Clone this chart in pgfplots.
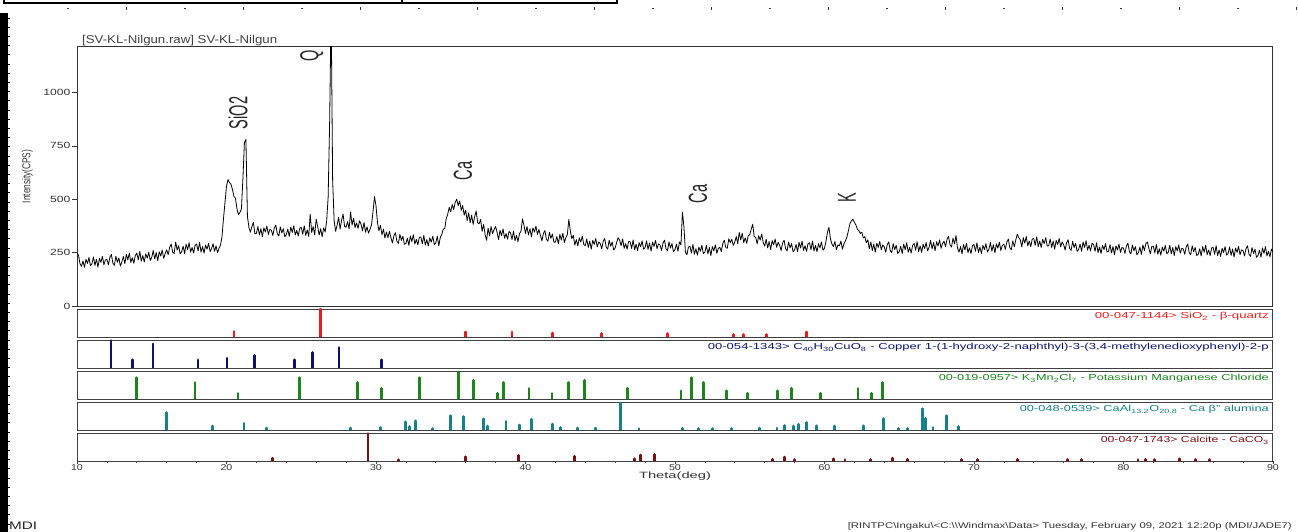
\documentclass[border=0pt]{standalone}
\usepackage{fontspec}
\setmainfont{Liberation Sans}
\usepackage{graphicx}
\usepackage{pgfplots}
\pgfplotsset{compat=1.18}
\definecolor{cRed}{RGB}{232,28,28}
\definecolor{cNavy}{RGB}{12,18,110}
\definecolor{cGreen}{RGB}{28,134,28}
\definecolor{cTeal}{RGB}{22,130,136}
\definecolor{cBrown}{RGB}{124,14,14}
\newcommand{\yl}[1]{\scalebox{1.35}[1]{#1}}
\newcommand{\tl}[1]{\scalebox{1.25}[1]{#1}}
\newcommand{\plab}[2]{\resizebox{#1}{6.3pt}{#2}}
\newcommand{\ann}[1]{\scalebox{0.56}[1]{\fontsize{26}{26}\selectfont #1}}
\pgfplotsset{
 panel/.style={at={(77pt,#1)}, anchor=south west, scale only axis, width=1196pt, height=28pt,
  xmin=10, xmax=90, ymin=0, ymax=100, xtick=\empty, ytick=\empty,
  x axis line style={gray!55, line width=1.3pt}, y axis line style={black!75, line width=0.9pt},
  clip mode=individual},
 stick/.style={ycomb, draw=#1, line width=2.8pt, line cap=round}
}
\begin{document}
\begin{tikzpicture}[x=1pt,y=1pt]
\useasboundingbox (0,0) rectangle (1298,532);
% screen decorations
\fill[black] (0,0) rectangle (7.5,519);
\foreach \i in {0,...,55} {\draw[black, line width=0.6pt] (7.5,{514-9.2*\i}) -- (10,{514-9.2*\i});}
\draw[black, line width=1.5pt] (4,532) -- (4,529) -- (617,529) -- (617,532);
\draw[black, line width=1.5pt] (402,529) -- (402,532);
\foreach \k in {0,...,21} {
  \pgfmathsetmacro{\xx}{68+58.5*\k}
  \ifodd\k \fill[gray!40!black] (\xx-0.5,522) rectangle (\xx+0.5,525);
  \else \fill[gray!40!black] (\xx-0.6,523) rectangle (\xx+0.6,524.2); \fi
}
% main pattern
\begin{axis}[
 at={(77pt,226pt)}, anchor=south west, scale only axis, width=1196pt, height=259.5pt,
 xmin=10, xmax=90, ymin=0, ymax=1215,
 xtick=\empty, ytick={0,250,500,750,1000},
 yticklabels={\yl{0},\yl{250},\yl{500},\yl{750},\yl{1000}},
 ytick pos=left, tick align=outside, major tick length=5pt,
 tick style={black!80, line width=0.6pt},
 yticklabel style={font=\fontsize{9}{9}\selectfont, text=black!80, inner sep=1.5pt},
 x axis line style={gray!55, line width=1.3pt}, y axis line style={black!80, line width=0.9pt},
 clip mode=individual]
\addplot[black, line width=0.8pt, line join=round] coordinates {
(10.0,252)(10.1,238)(10.2,198)(10.3,185)(10.4,211)(10.5,181)(10.6,219)(10.7,199)(10.8,227)(10.9,188)
(11.0,198)(11.1,230)(11.2,190)(11.3,220)(11.4,182)(11.5,224)(11.6,204)(11.7,232)(11.8,193)(11.9,216)
(12.0,218)(12.1,193)(12.2,228)(12.3,241)(12.4,201)(12.5,191)(12.6,233)(12.7,205)(12.8,225)(12.9,187)
(13.0,206)(13.1,232)(13.2,198)(13.3,242)(13.4,216)(13.5,248)(13.6,204)(13.7,226)(13.8,200)(13.9,236)
(14.0,248)(14.1,216)(14.2,256)(14.3,210)(14.4,236)(14.5,206)(14.6,244)(14.7,224)(14.8,252)(14.9,213)
(15.0,228)(15.1,260)(15.2,220)(15.3,250)(15.4,212)(15.5,254)(15.6,234)(15.7,262)(15.8,223)(15.9,246)
(16.0,263)(16.1,240)(16.2,275)(16.3,290)(16.4,252)(16.5,246)(16.6,300)(16.7,262)(16.8,282)(16.9,244)
(17.0,254)(17.1,280)(17.2,246)(17.3,290)(17.4,264)(17.5,296)(17.6,252)(17.7,274)(17.8,248)(17.9,284)
(18.0,290)(18.1,258)(18.2,298)(18.3,252)(18.4,278)(18.5,248)(18.6,286)(18.7,266)(18.8,294)(18.9,255)
(19.0,268)(19.1,292)(19.2,256)(19.3,282)(19.4,250)(19.5,270)(19.6,285)(19.7,325)(19.8,410)(19.9,485)
(20.0,560)(20.1,592)(20.2,578)(20.3,570)(20.4,545)(20.5,512)(20.6,505)(20.7,455)(20.8,428)(20.9,438)
(21.0,455)(21.1,600)(21.2,765)(21.3,780)(21.4,420)(21.5,368)(21.6,345)(21.7,372)(21.8,392)(21.9,338)
(22.0,340)(22.1,372)(22.2,332)(22.3,362)(22.4,324)(22.5,366)(22.6,346)(22.7,374)(22.8,335)(22.9,358)
(23.0,355)(23.1,330)(23.2,365)(23.3,378)(23.4,338)(23.5,328)(23.6,370)(23.7,342)(23.8,362)(23.9,324)
(24.0,334)(24.1,360)(24.2,326)(24.3,370)(24.4,344)(24.5,376)(24.6,332)(24.7,354)(24.8,328)(24.9,364)
(25.0,368)(25.1,336)(25.2,376)(25.3,330)(25.4,356)(25.5,326)(25.6,430)(25.7,344)(25.8,372)(25.9,333)
(26.0,407)(26.1,372)(26.2,332)(26.3,362)(26.4,324)(26.5,366)(26.6,346)(26.7,397)(26.8,510)(26.9,860)
(27.0,1400)(27.1,590)(27.2,400)(27.3,350)(27.4,378)(27.5,416)(27.6,360)(27.7,402)(27.8,430)(27.9,372)
(28.0,369)(28.1,395)(28.2,361)(28.3,440)(28.4,379)(28.5,411)(28.6,367)(28.7,389)(28.8,363)(28.9,399)
(29.0,383)(29.1,351)(29.2,391)(29.3,345)(29.4,371)(29.5,341)(29.6,359)(29.7,380)(29.8,440)(29.9,512)
(30.0,470)(30.1,390)(30.2,352)(30.3,378)(30.4,334)(30.5,360)(30.6,318)(30.7,346)(30.8,320)(30.9,350)
(31.0,320)(31.1,295)(31.2,330)(31.3,343)(31.4,303)(31.5,293)(31.6,335)(31.7,307)(31.8,327)(31.9,289)
(32.0,292)(32.1,318)(32.2,284)(32.3,328)(32.4,302)(32.5,334)(32.6,290)(32.7,312)(32.8,286)(32.9,322)
(33.0,323)(33.1,291)(33.2,331)(33.3,285)(33.4,311)(33.5,281)(33.6,319)(33.7,299)(33.8,327)(33.9,288)
(34.0,295)(34.1,327)(34.2,282)(34.3,320)(34.4,335)(34.5,360)(34.6,362)(34.7,410)(34.8,430)(34.9,462)
(35.0,440)(35.1,475)(35.2,452)(35.3,485)(35.4,500)(35.5,470)(35.6,492)(35.7,448)(35.8,470)(35.9,425)
(36.0,448)(36.1,400)(36.2,436)(36.3,390)(36.4,425)(36.5,382)(36.6,418)(36.7,445)(36.8,390)(36.9,385)
(37.0,405)(37.1,350)(37.2,382)(37.3,334)(37.4,308)(37.5,365)(37.6,328)(37.7,372)(37.8,338)(37.9,358)
(38.0,372)(38.1,345)(38.2,311)(38.3,355)(38.4,329)(38.5,361)(38.6,317)(38.7,339)(38.8,313)(38.9,349)
(39.0,343)(39.1,311)(39.2,351)(39.3,305)(39.4,331)(39.5,301)(39.6,339)(39.7,350)(39.8,408)(39.9,378)
(40.0,340)(40.1,372)(40.2,332)(40.3,362)(40.4,324)(40.5,366)(40.6,346)(40.7,374)(40.8,335)(40.9,358)
(41.0,330)(41.1,305)(41.2,340)(41.3,353)(41.4,313)(41.5,303)(41.6,345)(41.7,317)(41.8,337)(41.9,299)
(42.0,299)(42.1,325)(42.2,291)(42.3,335)(42.4,309)(42.5,341)(42.6,297)(42.7,319)(42.8,335)(42.9,405)
(43.0,352)(43.1,315)(43.2,331)(43.3,285)(43.4,311)(43.5,281)(43.6,319)(43.7,299)(43.8,327)(43.9,288)
(44.0,282)(44.1,314)(44.2,274)(44.3,304)(44.4,266)(44.5,308)(44.6,288)(44.7,316)(44.8,277)(44.9,300)
(45.0,293)(45.1,268)(45.2,303)(45.3,316)(45.4,276)(45.5,266)(45.6,308)(45.7,280)(45.8,300)(45.9,262)
(46.0,272)(46.1,298)(46.2,320)(46.3,308)(46.4,282)(46.5,314)(46.6,270)(46.7,292)(46.8,266)(46.9,302)
(47.0,301)(47.1,269)(47.2,309)(47.3,263)(47.4,289)(47.5,259)(47.6,297)(47.7,277)(47.8,305)(47.9,266)
(48.0,273)(48.1,305)(48.2,265)(48.3,295)(48.4,257)(48.5,299)(48.6,279)(48.7,307)(48.8,268)(48.9,291)
(49.0,285)(49.1,260)(49.2,295)(49.3,308)(49.4,268)(49.5,258)(49.6,300)(49.7,272)(49.8,292)(49.9,254)
(50.0,264)(50.1,290)(50.2,256)(50.3,300)(50.4,286)(50.5,440)(50.6,370)(50.7,252)(50.8,240)(50.9,276)
(51.0,280)(51.1,248)(51.2,288)(51.3,242)(51.4,268)(51.5,238)(51.6,276)(51.7,256)(51.8,284)(51.9,245)
(52.0,252)(52.1,284)(52.2,244)(52.3,274)(52.4,236)(52.5,278)(52.6,258)(52.7,286)(52.8,247)(52.9,270)
(53.0,275)(53.1,255)(53.2,292)(53.3,308)(53.4,274)(53.5,270)(53.6,315)(53.7,297)(53.8,312)(53.9,284)
(54.0,299)(54.1,325)(54.2,291)(54.3,345)(54.4,309)(54.5,341)(54.6,297)(54.7,319)(54.8,293)(54.9,329)
(55.0,333)(55.1,360)(55.2,383)(55.3,325)(55.4,321)(55.5,291)(55.6,329)(55.7,309)(55.8,337)(55.9,298)
(56.0,280)(56.1,312)(56.2,272)(56.3,302)(56.4,264)(56.5,306)(56.6,286)(56.7,314)(56.8,275)(56.9,298)
(57.0,285)(57.1,260)(57.2,295)(57.3,308)(57.4,268)(57.5,258)(57.6,300)(57.7,272)(57.8,292)(57.9,254)
(58.0,262)(58.1,288)(58.2,254)(58.3,298)(58.4,272)(58.5,304)(58.6,260)(58.7,282)(58.8,256)(58.9,292)
(59.0,296)(59.1,264)(59.2,304)(59.3,258)(59.4,284)(59.5,254)(59.6,292)(59.7,272)(59.8,300)(59.9,261)
(60.0,270)(60.1,302)(60.2,345)(60.3,368)(60.4,315)(60.5,290)(60.6,278)(60.7,302)(60.8,263)(60.9,286)
(61.0,282)(61.1,304)(61.2,266)(61.3,290)(61.4,305)(61.5,322)(61.6,352)(61.7,385)(61.8,398)(61.9,407)
(62.0,392)(62.1,380)(62.2,360)(62.3,352)(62.4,340)(62.5,346)(62.6,318)(62.7,325)(62.8,296)(62.9,310)
(63.0,268)(63.1,300)(63.2,260)(63.3,290)(63.4,252)(63.5,294)(63.6,274)(63.7,302)(63.8,263)(63.9,286)
(64.0,277)(64.1,252)(64.2,287)(64.3,300)(64.4,260)(64.5,250)(64.6,292)(64.7,264)(64.8,284)(64.9,246)
(65.0,254)(65.1,280)(65.2,246)(65.3,290)(65.4,264)(65.5,296)(65.6,252)(65.7,274)(65.8,248)(65.9,284)
(66.0,293)(66.1,261)(66.2,301)(66.3,255)(66.4,281)(66.5,251)(66.6,289)(66.7,269)(66.8,297)(66.9,258)
(67.0,275)(67.1,307)(67.2,267)(67.3,297)(67.4,259)(67.5,301)(67.6,281)(67.7,309)(67.8,270)(67.9,293)
(68.0,303)(68.1,278)(68.2,313)(68.3,326)(68.4,286)(68.5,276)(68.6,318)(68.7,290)(68.8,330)(68.9,272)
(69.0,252)(69.1,278)(69.2,244)(69.3,288)(69.4,262)(69.5,294)(69.6,250)(69.7,272)(69.8,246)(69.9,282)
(70.0,288)(70.1,256)(70.2,296)(70.3,250)(70.4,276)(70.5,246)(70.6,284)(70.7,264)(70.8,292)(70.9,253)
(71.0,265)(71.1,297)(71.2,257)(71.3,287)(71.4,249)(71.5,291)(71.6,271)(71.7,299)(71.8,260)(71.9,283)
(72.0,290)(72.1,265)(72.2,300)(72.3,313)(72.4,273)(72.5,263)(72.6,305)(72.7,277)(72.8,310)(72.9,336)
(73.0,320)(73.1,310)(73.2,276)(73.3,320)(73.4,294)(73.5,326)(73.6,282)(73.7,304)(73.8,278)(73.9,314)
(74.0,316)(74.1,284)(74.2,324)(74.3,278)(74.4,304)(74.5,274)(74.6,312)(74.7,292)(74.8,320)(74.9,281)
(75.0,282)(75.1,314)(75.2,274)(75.3,304)(75.4,266)(75.5,308)(75.6,288)(75.7,316)(75.8,277)(75.9,300)
(76.0,287)(76.1,262)(76.2,297)(76.3,310)(76.4,270)(76.5,260)(76.6,302)(76.7,274)(76.8,294)(76.9,256)
(77.0,264)(77.1,290)(77.2,256)(77.3,300)(77.4,274)(77.5,306)(77.6,262)(77.7,284)(77.8,258)(77.9,294)
(78.0,288)(78.1,256)(78.2,296)(78.3,250)(78.4,276)(78.5,246)(78.6,284)(78.7,264)(78.8,292)(78.9,253)
(79.0,256)(79.1,288)(79.2,248)(79.3,278)(79.4,240)(79.5,282)(79.6,262)(79.7,290)(79.8,251)(79.9,274)
(80.0,271)(80.1,246)(80.2,281)(80.3,294)(80.4,254)(80.5,244)(80.6,286)(80.7,258)(80.8,278)(80.9,240)
(81.0,250)(81.1,276)(81.2,242)(81.3,286)(81.4,260)(81.5,292)(81.6,300)(81.7,270)(81.8,244)(81.9,280)
(82.0,280)(82.1,248)(82.2,288)(82.3,242)(82.4,268)(82.5,238)(82.6,276)(82.7,256)(82.8,284)(82.9,245)
(83.0,252)(83.1,284)(83.2,244)(83.3,274)(83.4,236)(83.5,278)(83.6,258)(83.7,286)(83.8,247)(83.9,270)
(84.0,267)(84.1,242)(84.2,277)(84.3,290)(84.4,250)(84.5,240)(84.6,282)(84.7,254)(84.8,274)(84.9,236)
(85.0,242)(85.1,268)(85.2,234)(85.3,278)(85.4,252)(85.5,284)(85.6,240)(85.7,262)(85.8,236)(85.9,272)
(86.0,274)(86.1,242)(86.2,282)(86.3,236)(86.4,262)(86.5,232)(86.6,270)(86.7,250)(86.8,278)(86.9,239)
(87.0,245)(87.1,277)(87.2,237)(87.3,267)(87.4,229)(87.5,271)(87.6,251)(87.7,279)(87.8,240)(87.9,263)
(88.0,259)(88.1,234)(88.2,269)(88.3,282)(88.4,242)(88.5,232)(88.6,274)(88.7,246)(88.8,266)(88.9,228)
(89.0,236)(89.1,262)(89.2,228)(89.3,272)(89.4,246)(89.5,278)(89.6,234)(89.7,256)(89.8,230)(89.9,266)
(90.0,252)};
\end{axis}
% stick panels
\begin{axis}[panel=195pt]
\addplot[stick=cRed] coordinates {(20.5,20)(26.3,100)(36.0,18)(39.1,18)(41.8,14)(45.1,12)(49.5,12)(53.9,9)(54.6,9)(56.1,9)(58.8,18)};
\end{axis}
\begin{axis}[panel=164pt]
\addplot[stick=cNavy] coordinates {(12.28,98)(13.71,29)(15.09,86)(18.09,29)(20.03,35)(21.88,45)(24.56,29)(25.76,55)(27.53,73)(30.37,29)};
\end{axis}
\begin{axis}[panel=133pt]
\addplot[stick=cGreen] coordinates {(13.98,76)(17.9,59)(20.77,20)(24.88,76)(28.75,59)(30.37,38)(32.89,76)(35.54,96)(36.53,67)(38.14,20)(38.54,59)(40.24,38)(41.78,20)(42.89,59)(43.95,67)(46.84,38)(50.4,29)(51.13,76)(51.93,59)(53.46,29)(54.83,20)(56.86,29)(57.81,38)(59.74,20)(62.24,38)(63.14,20)(63.88,59)};
\end{axis}
\begin{axis}[panel=102pt]
\addplot[stick=cTeal] coordinates {(16.0,62)(19.05,14)(21.17,24)(22.7,7)(28.28,7)(30.29,9)(31.96,29)(32.23,12)(32.63,33)(33.77,5)(34.96,51)(35.86,48)(37.21,40)(37.48,14)(38.7,31)(39.58,18)(40.4,38)(41.83,21)(42.36,9)(43.47,7)(44.7,7)(46.37,96)(47.59,5)(50.5,6)(51.56,5)(52.53,5)(53.77,5)(55.65,7)(56.83,7)(57.34,16)(57.94,14)(58.28,20)(58.79,27)(59.45,15)(60.66,14)(62.59,15)(63.96,41)(64.93,5)(65.54,5)(66.57,76)(66.78,41)(67.26,9)(68.15,51)(68.94,12)};
\end{axis}
\begin{axis}[panel=71pt,
 xtick={10,20,30,40,50,60,70,80,90},
 xticklabels={\tl{10},\tl{20},\tl{30},\tl{40},\tl{50},\tl{60},\tl{70},\tl{80},\tl{90}},
 minor xtick={12,14,...,88}, xtick pos=left, tick align=outside,
 major tick length=3pt, minor tick length=2pt, tick style={black!75, line width=0.6pt},
 xticklabel style={font=\fontsize{8.5}{8.5}\selectfont, text=black!80, inner sep=0.5pt}]
\addplot[stick=cBrown] coordinates {(23.1,10)(29.47,98)(31.51,4)(36.0,15)(39.52,20)(43.29,17)(47.27,8)(47.67,21)(48.62,23)(56.54,6)(57.34,14)(58.02,5)(60.63,8)(61.37,5)(63.06,5)(64.56,10)(65.54,6)(69.18,5)(70.26,5)(72.9,6)(76.28,5)(77.2,5)(80.98,5)(81.5,6)(82.08,5)(83.75,8)(84.8,5)(85.78,5)};
\end{axis}
% panel labels
\node[anchor=north east, inner sep=0pt, text=cRed] at (1269,219.5) {\plab{174pt}{00-047-1144> SiO\textsubscript{2} - β-quartz}};
\node[anchor=north east, inner sep=0pt, text=cNavy] at (1269,188.5) {\plab{561pt}{00-054-1343> C\textsubscript{40}H\textsubscript{30}CuO\textsubscript{8} - Copper 1-(1-hydroxy-2-naphthyl)-3-(3,4-methylenedioxyphenyl)-2-p}};
\node[anchor=north east, inner sep=0pt, text=cGreen] at (1269,157.5) {\plab{330pt}{00-019-0957> K\textsubscript{3}Mn\textsubscript{2}Cl\textsubscript{7} - Potassium Manganese Chloride}};
\node[anchor=north east, inner sep=0pt, text=cTeal] at (1269,126.5) {\plab{249pt}{00-048-0539> CaAl\textsubscript{13.2}O\textsubscript{20.8} - Ca β" alumina}};
\node[anchor=north east, inner sep=0pt, text=cBrown] at (1269,95.5) {\plab{168pt}{00-047-1743> Calcite - CaCO\textsubscript{3}}};
% annotations
\node[rotate=90, text=black!85, inner sep=0pt] at (238,419) {\ann{SiO2}};
\node[rotate=90, text=black!85, inner sep=0pt] at (311.7,476) {\ann{Q}};
\node[rotate=90, text=black!85, inner sep=0pt] at (463,361) {\ann{Ca}};
\node[rotate=90, text=black!85, inner sep=0pt] at (698,338) {\ann{Ca}};
\node[rotate=90, text=black!85, inner sep=0pt] at (847,334) {\ann{K}};
% titles and labels
\node[anchor=base west, inner sep=0pt, text=black!75] at (82,488) {\resizebox{195pt}{8.2pt}{[SV-KL-Nilgun.raw] SV-KL-Nilgun}};
\node[rotate=90, inner sep=0pt, text=black!80] at (27.5,355.5) {\scalebox{0.72}[1]{\fontsize{11.5}{11.5}\selectfont Intensity(CPS)}};
\node[inner sep=0pt, text=black!80] at (675,56) {\resizebox{72pt}{6.6pt}{Theta(deg)}};
\node[anchor=south west, inner sep=0pt, text=black!85] at (9,2) {\resizebox{28pt}{7.5pt}{MDI}};
\node[anchor=south east, inner sep=0pt, text=black!80] at (1292,2) {\resizebox{444pt}{6pt}{[RINTPC\textbackslash Ingaku\textbackslash <C:\textbackslash\textbackslash Windmax\textbackslash Data> Tuesday, February 09, 2021 12:20p (MDI/JADE7)}};
\end{tikzpicture}
\end{document}
